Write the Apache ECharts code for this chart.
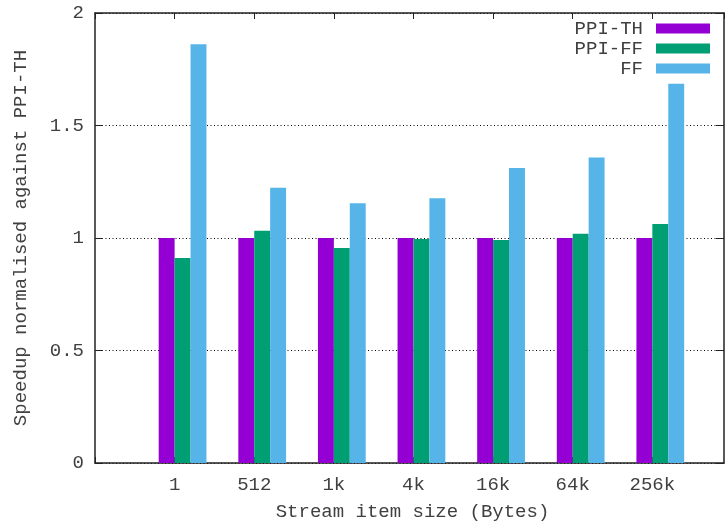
<!DOCTYPE html>
<html>
<head>
<meta charset="utf-8">
<script src="https://cdn.jsdelivr.net/npm/echarts@6/dist/echarts.min.js"></script>
<style>
  html, body { margin: 0; padding: 0; background: #fff; }
  #chart { width: 725px; height: 526px; }
</style>
</head>
<body>
<div id="chart"></div>
<script>
// Stream item sizes along the x axis
const categories = ['1', '512', '1k', '4k', '16k', '64k', '256k'];
// Speedup of each variant, normalised against PPI-TH
const ppiTH = [1, 1, 1, 1, 1, 1, 1];
const ppiFF = [0.911, 1.032, 0.956, 0.996, 0.991, 1.019, 1.062];
const ff = [1.861, 1.223, 1.155, 1.177, 1.311, 1.358, 1.686];
const seriesNames = ['PPI-TH', 'PPI-FF', 'FF'];
const yTickValues = [0, 0.5, 1, 1.5, 2];

const FONT = 'Liberation Mono';
const FONT_SIZE = 19;
const TEXT = '#404040';
const AXIS = '#222';
const BAR_W = 0.2;            // bar width in x-axis units
const OFFSETS = [-0.1, 0.1, 0.3];
const COLORS = ['#9400d3', '#009e73', '#56b4e9'];

function barRenderer(offset) {
  return function (params, api) {
    const x = api.value(0), v = api.value(1);
    const a = api.coord([x + offset - BAR_W / 2, v]);
    const b = api.coord([x + offset + BAR_W / 2, 0]);
    return {
      type: 'rect',
      shape: { x: a[0], y: a[1], width: b[0] - a[0], height: b[1] - a[1] },
      style: { fill: api.visual('color') }
    };
  };
}

const allValues = [ppiTH, ppiFF, ff];
const series = seriesNames.map((name, k) => ({
  name: name,
  type: 'custom',
  renderItem: barRenderer(OFFSETS[k]),
  encode: { x: 0, y: 1 },
  itemStyle: { color: COLORS[k] },
  data: categories.map((c, i) => [i, allValues[k][i]]),
  z: 3
}));

const chart = echarts.init(document.getElementById('chart'), null, { renderer: 'canvas' });
chart.setOption({
  animation: false,
  textStyle: { fontFamily: FONT, color: TEXT },
  grid: { left: 95, right: 1, top: 13, bottom: 62, containLabel: false },
  legend: {
    data: seriesNames.map(n => ({ name: n, icon: 'rect' })),
    orient: 'vertical',
    align: 'right',
    right: 15,
    top: 19,
    padding: 0,
    itemWidth: 54,
    itemHeight: 10,
    itemGap: 1,
    selectedMode: false,
    textStyle: { fontFamily: FONT, fontSize: FONT_SIZE, color: TEXT, padding: [0, 8, 0, 0] }
  },
  xAxis: [{
    type: 'value',
    min: -1,
    max: 6.9,
    interval: 1,
    position: 'bottom',
    name: 'Stream item size (Bytes)',
    nameLocation: 'middle',
    nameGap: 39,
    nameTextStyle: { fontFamily: FONT, fontSize: FONT_SIZE, color: TEXT, padding: [0, 0, 0, 6] },
    axisLine: { show: true, onZero: false, lineStyle: { color: AXIS, width: 1.5 } },
    axisTick: { show: true, inside: true, length: 6, lineStyle: { color: AXIS } },
    axisLabel: {
      fontFamily: FONT, fontSize: FONT_SIZE, color: TEXT, margin: 12,
      showMaxLabel: false,
      formatter: v => (Number.isInteger(v) && categories[v] !== undefined ? categories[v] : '')
    },
    splitLine: { show: false }
  }, {
    type: 'value',
    min: -1,
    max: 6.9,
    interval: 1,
    position: 'top',
    axisLine: { show: true, onZero: false, lineStyle: { color: AXIS, width: 1.5 } },
    axisTick: { show: true, inside: true, length: 6, lineStyle: { color: AXIS } },
    axisLabel: { show: false },
    splitLine: { show: false }
  }],
  yAxis: [{
    type: 'value',
    min: yTickValues[0],
    max: yTickValues[yTickValues.length - 1],
    interval: 0.5,
    position: 'left',
    name: 'Speedup normalised against PPI-TH',
    nameLocation: 'middle',
    nameGap: 65,
    nameTextStyle: { fontFamily: FONT, fontSize: FONT_SIZE, color: TEXT },
    axisLine: { show: true, onZero: false, lineStyle: { color: AXIS, width: 1.5 } },
    axisTick: { show: true, inside: true, length: 8, lineStyle: { color: AXIS } },
    axisLabel: { fontFamily: FONT, fontSize: FONT_SIZE, color: TEXT, margin: 11 },
    splitLine: { show: true, lineStyle: { color: '#000', width: 1, type: [1, 2.5] } }
  }, {
    type: 'value',
    min: yTickValues[0],
    max: yTickValues[yTickValues.length - 1],
    interval: 0.5,
    position: 'right',
    axisLine: { show: true, onZero: false, lineStyle: { color: AXIS, width: 1.5 } },
    axisTick: { show: true, inside: true, length: 8, lineStyle: { color: AXIS } },
    axisLabel: { show: false },
    splitLine: { show: false }
  }],
  series: series
});
</script>
</body>
</html>
